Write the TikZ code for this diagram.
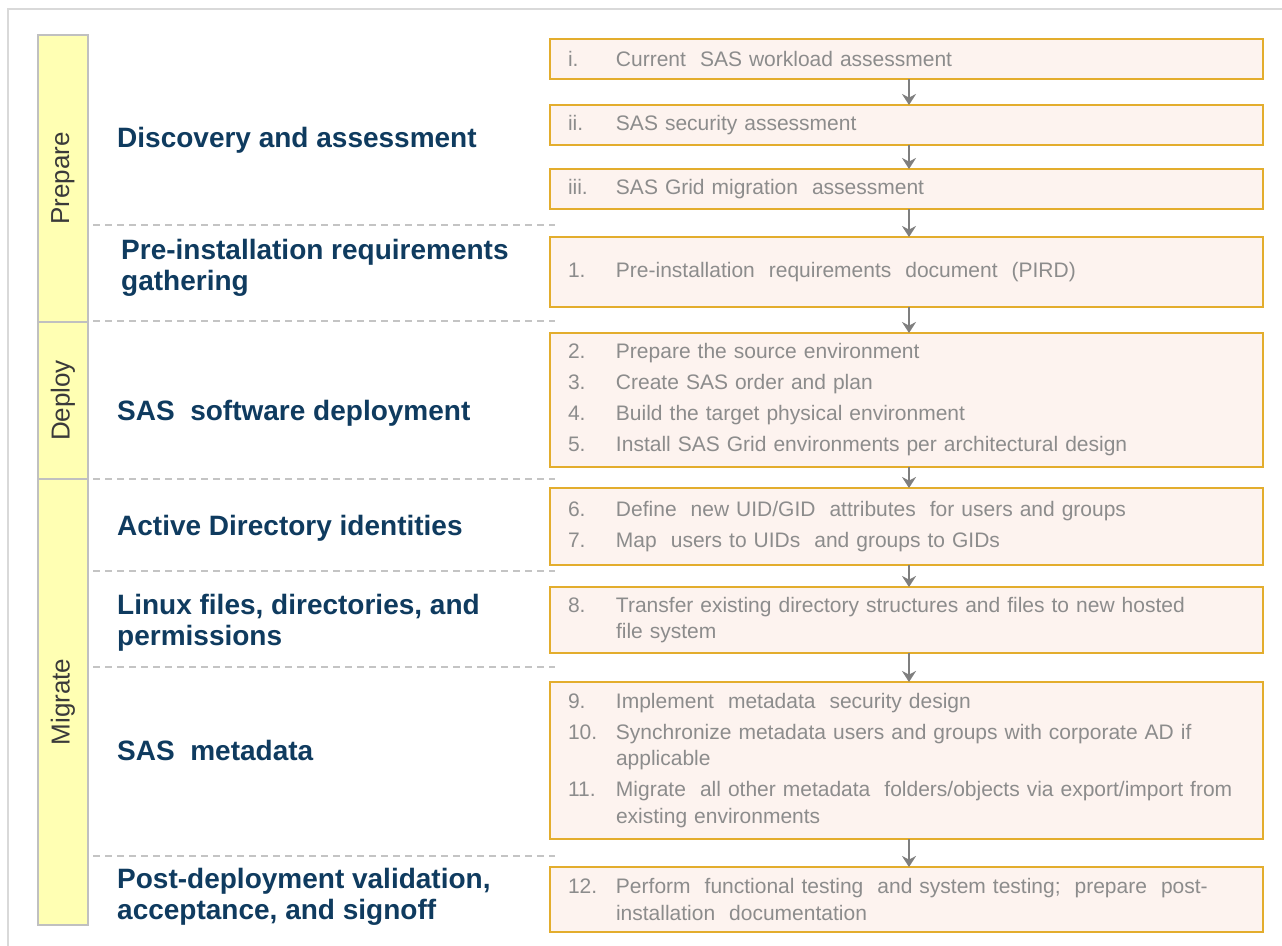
\documentclass[tikz,border=0pt]{standalone}
\usepackage{fontspec}
\setmainfont{Liberation Sans}
\usetikzlibrary{
  arrows.meta,
  positioning,  % Function "of" (e.g. [below=of x])
}
\definecolor{labelblue}{HTML}{0F3B5F}
\definecolor{boxgray}{HTML}{8C8C8C}
\definecolor{boxfill}{HTML}{FDF3EF}
\definecolor{boxgold}{HTML}{E3AD2D}
\definecolor{barfill}{HTML}{FFFFB3}
\definecolor{bargray}{HTML}{C0C0C0}
\definecolor{phasegray}{HTML}{3A3A3A}
\definecolor{splitgray}{HTML}{C4C4C4}
\definecolor{arrowgray}{HTML}{7F7F7F}
\definecolor{framegray}{HTML}{D9D9D9}
\def\mynumw{48pt}
\newcommand{\stepitem}[2]{\hangindent=\mynumw\hangafter=1\noindent\makebox[\mynumw][l]{#1}#2\par}
\tikzset{
  x=1pt,
  y=-1pt,
  phase bar/.style={
    draw=bargray,
    fill=barfill,
    line width=1.5pt,
    rotate=90,
    minimum height=50pt,
    inner sep=0pt,
    text=phasegray,
    font=\fontsize{26}{30}\selectfont
  },
  stage label/.style={
    anchor=west,
    align=left,
    inner sep=0pt,
    text=labelblue,
    font=\bfseries\fontsize{28}{31}\selectfont
  },
  stepbox/.style={
    draw=boxgold,
    fill=boxfill,
    line width=2pt,
    minimum width=713pt,
    text width=677pt,
    inner xsep=18pt,
    inner ysep=0pt,
    outer sep=0pt,
    align=left,
    text=boxgray,
    font=\fontsize{21}{26.5}\selectfont\setlength{\parskip}{4.5pt}
  },
  flow/.style={
    draw=arrowgray,
    line width=2pt,
    -{Stealth[length=11pt,width=14pt]}
  },
  phase split/.style={
    draw=splitgray,
    line width=1.2pt,
    dash pattern=on 7pt off 5pt
  }
}

\begin{document}
\begin{tikzpicture}
\useasboundingbox (0,0) rectangle (1282,945);
\draw[framegray,line width=2pt] (8,950) -- (8,9) -- (1290,9);

% phases
\node[phase bar,minimum width=287pt] (prepare) at (63,178.5) {Prepare};
\node[phase bar,minimum width=157pt] (deploy)  at (63,400.5) {Deploy};
\node[phase bar,minimum width=446pt] (migrate) at (63,702)   {Migrate};

\foreach \yy in {225,321,479,571,667,856}
  \draw[phase split] (93,\yy) -- (555,\yy);

% stages
\node[stage label] (discovery) at (117,140) {Discovery and assessment};
\node[stage label] (pird)      at (121,268) {Pre-installation requirements\\gathering};
\node[stage label] (software)  at (117,413) {SAS\ \ software deployment};
\node[stage label] (identity)  at (117,528) {Active Directory identities};
\node[stage label] (linux)     at (117,623) {Linux files, directories, and\\permissions};
\node[stage label] (metadata)  at (117,750) {SAS\ \ metadata};
\node[stage label] (signoff)   at (117,897) {Post-deployment validation,\\acceptance, and signoff};

% steps
\node[stepbox,minimum height=40pt] (bi) at (906.5,59) {\stepitem{i.}{Current\ \ SAS workload assessment}};
\node[stepbox,minimum height=40pt] (bii)  [below=26pt of bi]  {\stepitem{ii.}{SAS security assessment}};
\node[stepbox,minimum height=40pt] (biii) [below=24pt of bii] {\stepitem{iii.}{SAS Grid migration\ \ assessment}};
\node[stepbox,minimum height=70pt] (b1) [below=28pt of biii] {%
  \stepitem{1.}{Pre-installation\ \ requirements\ \ document\ \ (PIRD)}};
\node[stepbox,minimum height=134pt] (b2) [below=26pt of b1] {%
  \stepitem{2.}{Prepare the source environment}
  \stepitem{3.}{Create SAS order and plan}
  \stepitem{4.}{Build the target physical environment}
  \stepitem{5.}{Install SAS Grid environments per architectural design}};
\node[stepbox,minimum height=77pt] (b6) [below=21pt of b2] {%
  \stepitem{6.}{Define\ \ new UID/GID\ \ attributes\ \ for users and groups}
  \stepitem{7.}{Map\ \ users to UIDs\ \ and groups to GIDs}};
\node[stepbox,minimum height=66pt] (b8) [below=22pt of b6] {%
  \stepitem{8.}{Transfer existing directory structures and files to new hosted\newline file system}};
\node[stepbox,minimum height=157pt] (b9) [below=29pt of b8] {%
  \stepitem{9.}{Implement\ \ metadata\ \ security design}
  \stepitem{10.}{Synchronize metadata users and groups with corporate AD if\newline applicable}
  \stepitem{11.}{Migrate\ \ all other metadata\ \ folders/objects via export/import from\newline existing environments}};
\node[stepbox,minimum height=65pt] (b12) [below=28pt of b9] {%
  \stepitem{12.}{Perform\ \ functional testing\ \ and system testing;\ \ prepare\ \ post-\newline installation\ \ documentation}};

\foreach \a/\b in {bi/bii,bii/biii,biii/b1,b1/b2,b2/b6,b6/b8,b8/b9,b9/b12}
  \draw[flow] ([xshift=2.5pt]\a.south) -- ([xshift=2.5pt]\b.north);
\end{tikzpicture}
\end{document}
